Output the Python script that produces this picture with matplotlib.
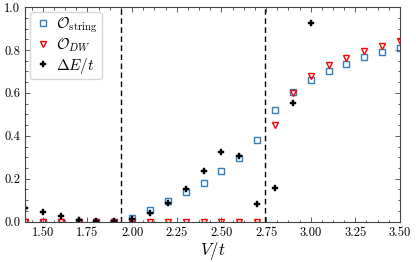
import matplotlib
matplotlib.use("Agg")
import matplotlib.pyplot as plt
from matplotlib.ticker import MultipleLocator, AutoMinorLocator
import numpy as np

plt.rcParams["font.family"] = "serif"
plt.rcParams["font.serif"] = ["cmr10", "DejaVu Serif"]
plt.rcParams["mathtext.fontset"] = "cm"
plt.rcParams["axes.formatter.use_mathtext"] = True

# data
V = [1.4, 1.5, 1.6, 1.7, 1.8, 1.9, 2.0, 2.1, 2.2, 2.3, 2.4,
     2.5, 2.6, 2.7, 2.8, 2.9, 3.0, 3.1, 3.2, 3.3, 3.4, 3.5]
O_string = [0.0, 0.0, 0.0, 0.0, 0.0, 0.0, 0.019, 0.055, 0.094, 0.136, 0.182,
            0.234, 0.296, 0.379, 0.52, 0.603, 0.662, 0.704, 0.737, 0.765, 0.79, 0.808]
O_DW = [0.0, 0.0, 0.0, 0.0, 0.0, 0.0, 0.0, 0.0, 0.0, 0.0, 0.0,
        0.0, 0.0, 0.0, 0.45, 0.60, 0.678, 0.729, 0.764, 0.794, 0.818, 0.841]
V_gap = [1.4, 1.5, 1.6, 1.7, 1.8, 1.9, 2.0, 2.1, 2.2, 2.3, 2.4,
         2.5, 2.6, 2.7, 2.8, 2.9, 3.0]
gap = [0.063, 0.047, 0.028, 0.01, 0.003, 0.003, 0.012, 0.042, 0.089, 0.154, 0.234,
       0.326, 0.304, 0.081, 0.157, 0.551, 0.925]
V_crit = [1.938, 2.746]

fig = plt.figure(figsize=(4.16, 2.62), dpi=100)
ax = fig.add_axes([0.060, 0.154, 0.9015, 0.819])

ax.plot(V, O_string, "s", ls="none", mfc="none", mec="#2f7fbf", mew=1.0, ms=5,
        label=r"$\mathcal{O}_{\rm string}$")
ax.plot(V, O_DW, "v", ls="none", mfc="none", mec="red", mew=1.0, ms=5,
        label=r"$\mathcal{O}_{DW}$")
ax.plot(V_gap, gap, "P", ls="none", color="black", mec="black", mew=0.3, ms=4.5,
        label=r"$\Delta E/t$")

for vc in V_crit:
    ax.axvline(vc, color="black", ls=(0, (4, 2.5)), lw=1.0)

ax.set_xlim(1.4, 3.5)
ax.set_ylim(0, 1.0)
ax.xaxis.set_major_locator(MultipleLocator(0.25))
ax.xaxis.set_minor_locator(AutoMinorLocator(4))
ax.yaxis.set_major_locator(MultipleLocator(0.2))
ax.yaxis.set_minor_locator(AutoMinorLocator(4))
ax.xaxis.set_major_formatter(matplotlib.ticker.FormatStrFormatter("%.2f"))
ax.yaxis.set_major_formatter(matplotlib.ticker.FormatStrFormatter("%.1f"))
ax.tick_params(which="both", direction="in", top=True, right=True, labelsize=9,
               width=0.6, color="#444444")
ax.tick_params(which="major", length=3.5)
ax.tick_params(which="minor", length=1.8)
for s in ax.spines.values():
    s.set_linewidth(0.8)
    s.set_color("#444444")

ax.set_xlabel(r"$V/t$", fontsize=12, labelpad=1)
ax.legend(loc="upper left", fontsize=11, handletextpad=0.3, handlelength=1.2,
          borderpad=0.25, labelspacing=0.1, borderaxespad=0.3, framealpha=0.8,
          markerscale=0.85)

fig.savefig("out.png", dpi=100)
